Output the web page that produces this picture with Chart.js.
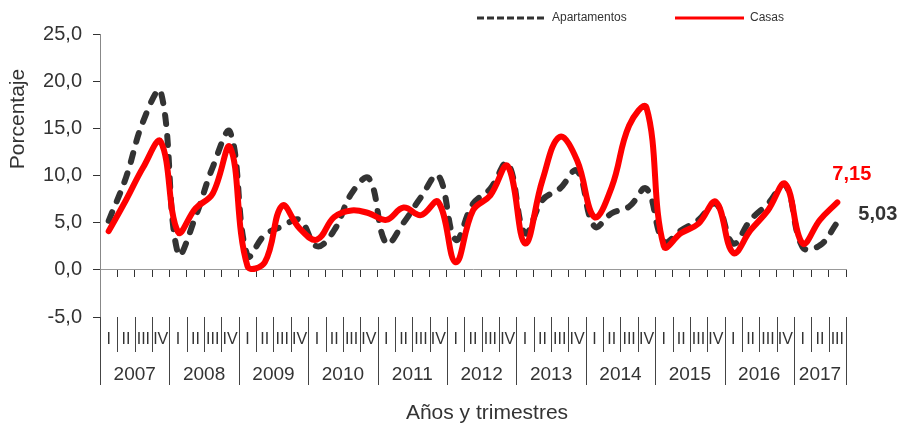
<!DOCTYPE html>
<html>
<head>
<meta charset="utf-8">
<script src="https://cdn.jsdelivr.net/npm/chart.js@4.4.0/dist/chart.umd.min.js"></script>
<style>
  html, body { margin: 0; padding: 0; background: #fff; }
</style>
</head>
<body>
<canvas id="chart" width="901" height="428"></canvas>
<script>
// years and how many quarters each one has in the series
const years = ['2007', '2008', '2009', '2010', '2011', '2012', '2013', '2014', '2015', '2016', '2017'];
const quartersPerYear = [4, 4, 4, 4, 4, 4, 4, 4, 4, 4, 3];
const quarterNames = ['I', 'II', 'III', 'IV'];

// quarterly values (%), 2007 I .. 2017 III
const apartamentos = [5.2, 9.8, 15.8, 18.9, 1.7, 5.6, 10.9, 14.6, 1.5, 3.7, 4.6, 5.3,
    2.5, 4.2, 8.1, 9.7, 2.8, 5.0, 7.7, 10.0, 3.2, 7.0, 8.6, 11.3, 3.9, 7.4, 8.6, 10.5,
    4.6, 6.0, 6.7, 8.6, 3.0, 4.2, 5.3, 7.0, 2.8, 5.3, 7.0, 9.0, 2.4, 2.6, 5.03];
const casas = [4.1, 7.4, 10.9, 13.6, 4.0, 6.5, 8.1, 13.0, 0.4, 0.8, 6.8, 4.4,
    3.2, 5.6, 6.3, 6.0, 5.3, 6.6, 5.8, 7.2, 0.8, 6.3, 7.9, 11.0, 2.8, 9.5, 14.1, 11.6,
    5.6, 8.8, 15.3, 17.2, 2.5, 3.9, 4.9, 7.2, 1.8, 4.2, 6.3, 9.1, 2.8, 5.3, 7.15];

const yTicks = [-5, 0, 5, 10, 15, 20, 25];

const FONT = '"Liberation Sans", Arial, sans-serif';

// category labels built from the year/quarter lists
const labels = [];
years.forEach((yr, i) => {
    for (let q = 0; q < quartersPerYear[i]; q++) labels.push(yr + ' ' + quarterNames[q]);
});

const fmt = v => v.toFixed(2).replace('.', ',');

// quarter / year labels under the plot, with separators
const categoryAxis = {
    id: 'categoryAxis',
    afterDraw(chart) {
        const { ctx, scales: { x, y } } = chart;
        const step = x.getPixelForValue(1) - x.getPixelForValue(0);
        const base = y.getPixelForValue(-5);
        ctx.save();
        ctx.strokeStyle = '#444';
        ctx.lineWidth = 1;
        ctx.fillStyle = '#333';
        ctx.textAlign = 'center';
        ctx.textBaseline = 'middle';

        // left border continues down through the label area
        ctx.beginPath();
        ctx.moveTo(x.left + 0.5, base);
        ctx.lineTo(x.left + 0.5, base + 68);
        ctx.stroke();

        let idx = 0;
        years.forEach((yr, i) => {
            const startX = x.getPixelForValue(idx) - step / 2;
            ctx.font = '16px ' + FONT;
            for (let q = 0; q < quartersPerYear[i]; q++) {
                const cx = x.getPixelForValue(idx + q);
                ctx.fillText(quarterNames[q], cx, base + 23);
                if (q > 0) {
                    const lx = Math.round(cx - step / 2) + 0.5;
                    ctx.beginPath();
                    ctx.moveTo(lx, base);
                    ctx.lineTo(lx, base + 35);
                    ctx.stroke();
                }
            }
            const endX = startX + step * quartersPerYear[i];
            const ex = Math.round(endX) + 0.5;
            ctx.beginPath();
            ctx.moveTo(ex, base);
            ctx.lineTo(ex, base + 68);
            ctx.stroke();
            ctx.font = '19px ' + FONT;
            ctx.fillText(yr, (startX + endX) / 2, base + 58);
            idx += quartersPerYear[i];
        });

        // axis titles
        ctx.font = '21px ' + FONT;
        ctx.fillText('Años y trimestres', 487, 413);
        ctx.save();
        ctx.translate(18, 119);
        ctx.rotate(-Math.PI / 2);
        ctx.fillText('Porcentaje', 0, 0);
        ctx.restore();
        ctx.restore();
    }
};

// legend at the top, drawn with each dataset's own stroke
const topLegend = {
    id: 'topLegend',
    afterDraw(chart) {
        const { ctx } = chart;
        const spots = [[477, 18], [675, 18]];
        ctx.save();
        chart.data.datasets.forEach((ds, i) => {
            const [lx, ly] = spots[i];
            ctx.strokeStyle = ds.borderColor;
            ctx.lineWidth = 3;
            ctx.setLineDash(ds.borderDash ? [7, 3] : []);
            ctx.beginPath();
            ctx.moveTo(lx, ly);
            ctx.lineTo(lx + 69, ly);
            ctx.stroke();
            ctx.setLineDash([]);
            ctx.fillStyle = '#333';
            ctx.font = '12px ' + FONT;
            ctx.textAlign = 'left';
            ctx.textBaseline = 'middle';
            ctx.fillText(ds.label, lx + 75, ly);
        });
        ctx.restore();
    }
};

// value label for the last quarter of each series
const lastValue = {
    id: 'lastValue',
    afterDatasetsDraw(chart) {
        const { ctx } = chart;
        const offsets = [[21, -8], [-5, -28]];
        const colors = ['#333333', '#ff0000'];
        ctx.save();
        ctx.font = 'bold 20px ' + FONT;
        ctx.textAlign = 'left';
        ctx.textBaseline = 'middle';
        chart.data.datasets.forEach((ds, i) => {
            const meta = chart.getDatasetMeta(i);
            const pt = meta.data[meta.data.length - 1];
            ctx.fillStyle = colors[i];
            ctx.fillText(fmt(ds.data[ds.data.length - 1]), pt.x + offsets[i][0], pt.y + offsets[i][1]);
        });
        ctx.restore();
    }
};

new Chart(document.getElementById('chart'), {
    type: 'line',
    data: {
        labels: labels,
        datasets: [
            {
                label: 'Apartamentos',
                data: apartamentos,
                borderColor: '#333333',
                borderWidth: 6,
                borderDash: [9, 12],
                borderCapStyle: 'round',
                borderJoinStyle: 'round',
                pointRadius: 0,
                tension: 0.4,
                order: 2
            },
            {
                label: 'Casas',
                data: casas,
                borderColor: '#ff0000',
                borderWidth: 6,
                borderCapStyle: 'round',
                borderJoinStyle: 'round',
                pointRadius: 0,
                tension: 0.4,
                order: 1
            }
        ]
    },
    options: {
        responsive: false,
        animation: false,
        layout: { padding: { left: 0, right: 55, top: 34, bottom: 111 } },
        plugins: { legend: { display: false }, tooltip: { enabled: false } },
        scales: {
            x: {
                type: 'category',
                position: { y: 0 },
                offset: true,
                ticks: { display: false },
                grid: {
                    offset: true,
                    drawOnChartArea: false,
                    drawTicks: true,
                    tickLength: 7,
                    tickColor: '#333'
                },
                border: { display: true, color: '#999', width: 1 }
            },
            y: {
                min: -5,
                max: 25,
                afterBuildTicks: scale => { scale.ticks = yTicks.map(v => ({ value: v })); },
                afterFit: scale => { scale.width = 100; },
                ticks: {
                    padding: 11,
                    color: '#333',
                    font: { family: FONT, size: 20 },
                    callback: v => v.toFixed(1).replace('.', ',')
                },
                grid: {
                    drawOnChartArea: false,
                    drawTicks: true,
                    tickLength: 7,
                    tickColor: '#333'
                },
                border: { display: true, color: '#888', width: 1 }
            }
        }
    },
    plugins: [categoryAxis, topLegend, lastValue]
});
</script>
</body>
</html>
